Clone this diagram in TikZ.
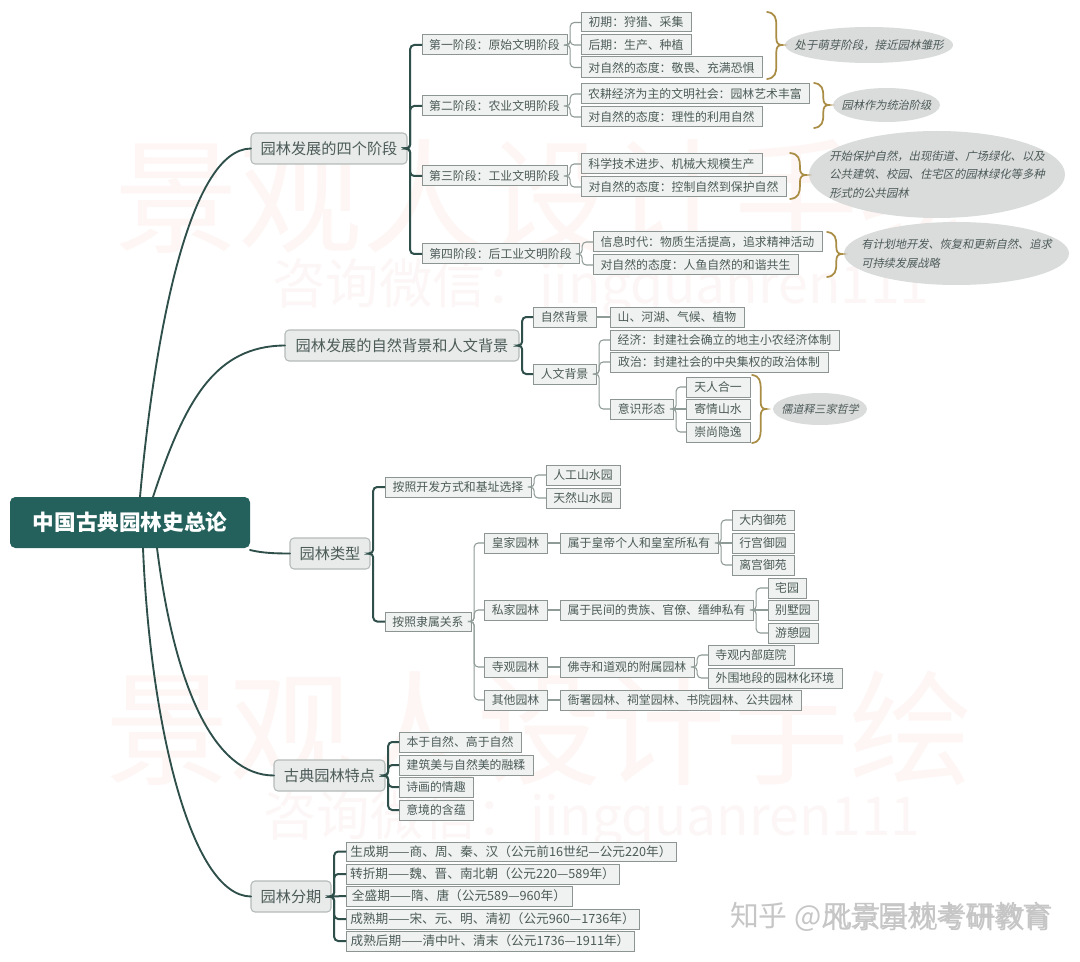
\documentclass[tikz,border=0pt]{standalone}
\usepackage{fontspec}
\setmainfont{Noto Sans CJK SC}
\newfontfamily\cjkit[FakeSlant=0.22]{Noto Sans CJK SC}
\usetikzlibrary{shapes.geometric}
\definecolor{rootc}{HTML}{24615C}
\definecolor{ink}{HTML}{4C5B58}
\definecolor{trunkc}{HTML}{2F4F4A}
\definecolor{thinc}{HTML}{8E9B97}
\definecolor{boxfill}{HTML}{EFF2F0}
\definecolor{boxline}{HTML}{8C9592}
\definecolor{l1fill}{HTML}{E8EBE9}
\definecolor{l1line}{HTML}{B4BBB8}
\definecolor{goldc}{HTML}{A98D45}
\definecolor{ellc}{HTML}{DADBDB}
\definecolor{wma}{HTML}{FEF6F4}
\definecolor{wmb}{HTML}{FCF7F6}
\definecolor{zhc}{HTML}{C6C6C6}
\newcommand\erow{\fontsize{9.5}{11}\selectfont}
\tikzset{
  bxs/.style={draw=boxline,fill=boxfill,line width=0.75pt,inner sep=0pt,outer sep=0pt,text=ink,font=\fontsize{8.9}{11}\selectfont},
  l1s/.style={draw=l1line,fill=l1fill,line width=0.8pt,rounded corners=3pt,inner sep=0pt,outer sep=0pt,text=ink,font=\fontsize{11.4}{13}\selectfont},
  rootbox/.style={fill=rootc,rounded corners=4pt,inner sep=0pt,outer sep=0pt,text=white,font=\fontsize{16.2}{19}\selectfont\bfseries},
  ells/.style={ellipse,fill=ellc,inner sep=0pt,outer sep=0pt},
  elt/.style={inner sep=0pt,text=ink,align=left},
  trunk/.style={draw=trunkc,line width=1.4pt,line cap=round},
  spine/.style={draw=trunkc,line width=1.5pt,rounded corners=3pt},
  twig/.style={draw=thinc,line width=0.8pt,rounded corners=3pt},
  gbr/.style={draw=goldc,line width=1.3pt,line cap=round},
  wm/.style={inner sep=0pt,text=wma},
  wms/.style={inner sep=0pt,text=wmb}
}
% name, x1, y1, x2, y2, text
\newcommand\bx[6]{\node[bxs,minimum width={(#4-#2)*0.75pt},minimum height={(#5-#3)*0.75pt}] (#1) at ({(#2+#4)/2},{(#3+#5)/2}) {#6};}
\newcommand\lv[6]{\node[l1s,minimum width={(#4-#2)*0.75pt},minimum height={(#5-#3)*0.75pt}] (#1) at ({(#2+#4)/2},{(#3+#5)/2}) {#6};}
% name, x1, y1, x2, y2, text size (pt), text
\newcommand\el[7]{\node[ells,minimum width={(#4-#2)*0.75pt},minimum height={(#5-#3)*0.75pt}] (#1) at ({(#2+#4)/2},{(#3+#5)/2}) {};
\node[elt,font=\fontsize{#6}{14}\selectfont\cjkit] (#1t) at (#1.center) {#7};}
% branched and straight links
\newcommand\lk[3]{\draw[#1] (#2.east) -- ([xshift=2.4pt]#2.east) |- (#3.west);}
\newcommand\ls[3]{\draw[#1] (#2.east) -- (#3.west);}
% x, y top, y mid, y bottom, width
\newcommand\gb[5]{\draw[gbr] (#1,#2) .. controls ({#1+0.55*#5},{#2+1}) and ({#1+0.62*#5},{#2+6}) .. ({#1+0.62*#5},{#2+14}) -- ({#1+0.62*#5},{#3-7}) .. controls ({#1+0.62*#5},{#3-2}) and ({#1+0.75*#5},{#3}) .. ({#1+#5},{#3}) .. controls ({#1+0.75*#5},{#3}) and ({#1+0.62*#5},{#3+2}) .. ({#1+0.62*#5},{#3+7}) -- ({#1+0.62*#5},{#4-14}) .. controls ({#1+0.62*#5},{#4-6}) and ({#1+0.55*#5},{#4-1}) .. (#1,#4);}
\begin{document}
\begin{tikzpicture}[x=0.75pt,y=-0.75pt]
\useasboundingbox (0,0) rectangle (1080,962);
\fill[white] (0,0) rectangle (1080,962);
% watermarks
\node[wm,font=\fontsize{93}{100}\selectfont] (w1) at (548,196) {景观人设计手绘};
\node[wms,font=\fontsize{40}{44}\selectfont] (w2) at (601,288) {咨询微信：jingquanren111};
\node[wm,font=\fontsize{93}{100}\selectfont] (w3) at (539,728) {景观人设计手绘};
\node[wms,font=\fontsize{40}{44}\selectfont] (w4) at (592,820) {咨询微信：jingquanren111};
\node[inner sep=0pt,text=zhc,font=\fontsize{21.6}{24}\selectfont,anchor=east] (z1) at (1052,917) {知乎 @风景园林考研教育};
\node[inner sep=0pt,text=zhc,font=\fontsize{21.6}{24}\selectfont,anchor=east] (z2) at (1054,917) {北京景观考研教育};
% root and first level
\node[rootbox,minimum width=180pt,minimum height=38.25pt] (root) at (130,522.5) {中国古典园林史总论};
\lv{a}{251}{133}{407}{164}{园林发展的四个阶段}
\lv{b}{285}{330}{519}{361}{园林发展的自然背景和人文背景}
\lv{c}{290}{538}{370}{569}{园林类型}
\lv{d}{274}{760}{385}{791}{古典园林特点}
\lv{e}{251}{881}{331}{912}{园林分期}
% A
\bx{a1}{422}{35}{567}{55}{第一阶段：原始文明阶段}
\bx{a2}{422}{96}{567}{116}{第二阶段：农业文明阶段}
\bx{a3}{422}{166}{567}{186}{第三阶段：工业文明阶段}
\bx{a4}{422}{244}{579}{264}{第四阶段：后工业文明阶段}
\bx{a11}{581}{13}{691}{32}{初期：狩猎、采集}
\bx{a12}{581}{35}{691}{55}{后期：生产、种植}
\bx{a13}{581}{57}{762}{78}{对自然的态度：敬畏、充满恐惧}
\bx{a21}{581}{84}{809}{104}{农耕经济为主的文明社会：园林艺术丰富}
\bx{a22}{581}{107}{762}{127}{对自然的态度：理性的利用自然}
\bx{a31}{581}{154}{762}{174}{科学技术进步、机械大规模生产}
\bx{a32}{581}{177}{786}{197}{对自然的态度：控制自然到保护自然}
\bx{a41}{593}{232}{822}{252}{信息时代：物质生活提高，追求精神活动}
\bx{a42}{593}{255}{798}{275}{对自然的态度：人鱼自然的和谐共生}
\el{ea1}{785}{27}{953}{63}{8.6}{处于萌芽阶段，接近园林雏形}
\el{ea2}{833}{88}{940}{122}{8.4}{园林作为统治阶级}
\el{ea3}{809}{131}{1065}{218}{8.5}{开始保护自然，出现街道、广场绿化、以及\\公共建筑、校园、住宅区的园林绿化等多种\\形式的公共园林}
\el{ea4}{844}{222}{1069}{285}{8.4}{有计划地开发、恢复和更新自然、追求\\可持续发展战略}
\gb{767}{12}{45}{79}{15}
\gb{814}{83}{105}{128}{15}
\gb{790}{153}{175}{199}{16}
\gb{827}{232}{254}{277}{15}
% B
\bx{b1}{533}{307}{596}{327}{自然背景}
\bx{b2}{533}{364}{596}{384}{人文背景}
\bx{b11}{610}{307}{744}{327}{山、河湖、气候、植物}
\bx{b21}{610}{330}{839}{350}{经济：封建社会确立的地主小农经济体制}
\bx{b22}{610}{352}{828}{372}{政治：封建社会的中央集权的政治体制}
\bx{b23}{610}{399}{673}{419}{意识形态}
\bx{b31}{686}{377}{750}{397}{天人合一}
\bx{b32}{686}{399}{750}{419}{寄情山水}
\bx{b33}{686}{422}{750}{442}{崇尚隐逸}
\el{eb}{773}{393}{867}{425}{8.3}{儒道释三家哲学}
\gb{752}{375}{409}{443}{14}
% C
\bx{c1}{385}{477}{531}{497}{按照开发方式和基址选择}
\bx{c2}{385}{612}{471}{631}{按照隶属关系}
\bx{c11}{546}{465}{620}{485}{人工山水园}
\bx{c12}{546}{488}{620}{508}{天然山水园}
\bx{c21}{484}{533}{547}{553}{皇家园林}
\bx{c22}{484}{600}{547}{620}{私家园林}
\bx{c23}{484}{657}{547}{677}{寺观园林}
\bx{c24}{484}{690}{547}{710}{其他园林}
\bx{c31}{560}{533}{718}{553}{属于皇帝个人和皇室所私有}
\bx{c32}{560}{600}{753}{620}{属于民间的贵族、官僚、缙绅私有}
\bx{c33}{560}{657}{694}{677}{佛寺和道观的附属园林}
\bx{c34}{560}{690}{801}{710}{衙署园林、祠堂园林、书院园林、公共园林}
\bx{c41}{732}{510}{794}{530}{大内御苑}
\bx{c42}{732}{533}{794}{553}{行宫御园}
\bx{c43}{732}{555}{794}{575}{离宫御苑}
\bx{c51}{768}{578}{806}{598}{宅园}
\bx{c52}{768}{600}{818}{620}{别墅园}
\bx{c53}{768}{623}{818}{643}{游憩园}
\bx{c61}{708}{645}{794}{665}{寺观内部庭院}
\bx{c62}{708}{668}{842}{688}{外围地段的园林化环境}
% D
\bx{d1}{399}{732}{521}{752}{本于自然、高于自然}
\bx{d2}{399}{755}{533}{775}{建筑美与自然美的融糅}
\bx{d3}{399}{777}{473}{797}{诗画的情趣}
\bx{d4}{399}{800}{473}{820}{意境的含蕴}
% E
\bx{e1}{346}{842}{676}{861}{\erow 生成期——商、周、秦、汉（公元前16世纪—公元220年）}
\bx{e2}{346}{864}{619}{884}{\erow 转折期——魏、晋、南北朝（公元220—589年）}
\bx{e3}{346}{886}{572}{906}{\erow 全盛期——隋、唐（公元589—960年）}
\bx{e4}{346}{909}{639}{929}{\erow 成熟期——宋、元、明、清初（公元960—1736年）}
\bx{e5}{346}{931}{634}{951}{\erow 成熟后期——清中叶、清末（公元1736—1911年）}
% trunk curves from the root
\draw[trunk] ([xshift=7.5pt]root.north) .. controls (155,330) and (190,149) .. (a.west);
\draw[trunk] ([xshift=17.25pt]root.north) .. controls (185,400) and (215,346) .. (b.west);
\draw[trunk] ([yshift=-1.5pt]root.south east) .. controls (262,553) and (275,553.5) .. (c.west);
\draw[trunk] ([xshift=20.25pt]root.south) .. controls (175,690) and (215,775.5) .. (d.west);
\draw[trunk] ([xshift=9.75pt]root.south) .. controls (150,720) and (190,896) .. (e.west);
% connectors
\foreach \k in {a1,a2,a3,a4}{\lk{spine}{a}{\k}}
\foreach \k in {a11,a12,a13}{\lk{twig}{a1}{\k}}
\foreach \k in {a21,a22}{\lk{twig}{a2}{\k}}
\foreach \k in {a31,a32}{\lk{twig}{a3}{\k}}
\foreach \k in {a41,a42}{\lk{twig}{a4}{\k}}
\foreach \k in {b1,b2}{\lk{spine}{b}{\k}}
\ls{twig}{b1}{b11}
\foreach \k in {b21,b22,b23}{\lk{twig}{b2}{\k}}
\foreach \k in {b31,b33}{\lk{twig}{b23}{\k}}
\ls{twig}{b23}{b32}
\foreach \k in {c1,c2}{\lk{spine}{c}{\k}}
\foreach \k in {c11,c12}{\lk{twig}{c1}{\k}}
\foreach \k in {c21,c22,c23,c24}{\lk{twig}{c2}{\k}}
\ls{twig}{c21}{c31}
\ls{twig}{c22}{c32}
\ls{twig}{c23}{c33}
\ls{twig}{c24}{c34}
\foreach \k in {c41,c43}{\lk{twig}{c31}{\k}}
\ls{twig}{c31}{c42}
\foreach \k in {c51,c53}{\lk{twig}{c32}{\k}}
\ls{twig}{c32}{c52}
\foreach \k in {c61,c62}{\lk{twig}{c33}{\k}}
\foreach \k in {d1,d2,d3,d4}{\lk{spine}{d}{\k}}
\foreach \k in {e1,e2,e4,e5}{\lk{spine}{e}{\k}}
\ls{spine}{e}{e3}
\end{tikzpicture}
\end{document}
